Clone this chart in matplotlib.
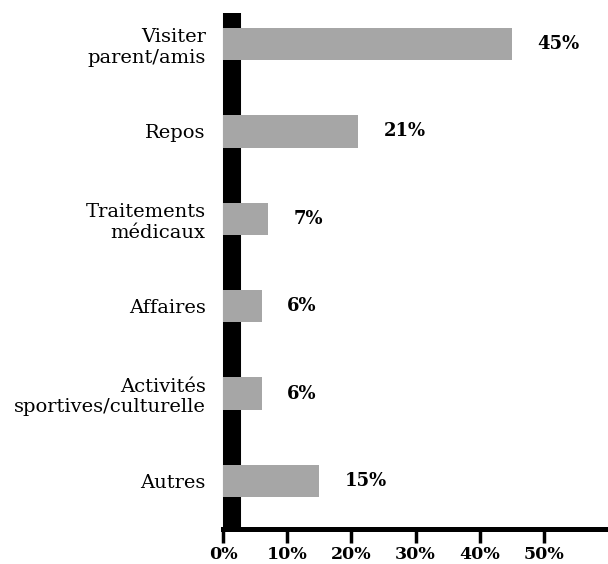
import matplotlib.pyplot as plt

plt.rcParams['font.family'] = ['DejaVu Serif']

categories = ["Visiter\nparent/amis", "Repos", "Traitements\nmédicaux",
              "Affaires", "Activités\nsportives/culturelle", "Autres"]
values = [45, 21, 7, 6, 6, 15]
value_labels = ["45%", "21%", "7%", "6%", "6%", "15%"]
xticks = [0, 10, 20, 30, 40, 50]
xtick_labels = ["0%", "10%", "20%", "30%", "40%", "50%"]

fig = plt.figure(figsize=(6.08, 5.64), dpi=100)
ax = fig.add_axes([0.3668, 0.062, 0.6332, 0.915])

ypos = list(range(len(categories)))
ax.barh(ypos, values, height=0.37, color='#a6a6a6', zorder=3)

for y, v, lab in zip(ypos, values, value_labels):
    ax.text(v + 4.0, y, lab, va='center', ha='left', fontsize=13, fontweight='bold')

ax.set_xlim(0, 60)
ax.set_ylim(5.55, -0.355)

ax.tick_params(axis='y', length=0, pad=19, labelsize=14)
ax.tick_params(axis='x', length=10, width=2.5, pad=2.5, labelsize=12.5)

ax.set_yticks(ypos)
ax.set_yticklabels(categories)
for t in ax.get_yticklabels():
    t.set_linespacing(1.05)

ax.set_xticks(xticks)
ax.set_xticklabels(xtick_labels, fontweight='bold')

ax.spines['top'].set_visible(False)
ax.spines['right'].set_visible(False)
ax.spines['left'].set_linewidth(13)
ax.spines['left'].set_capstyle('butt')
ax.spines['left'].set_position(('data', 1.4))
ax.spines['bottom'].set_linewidth(3.6)

plt.savefig("out.png", dpi=100)
plt.close(fig)
